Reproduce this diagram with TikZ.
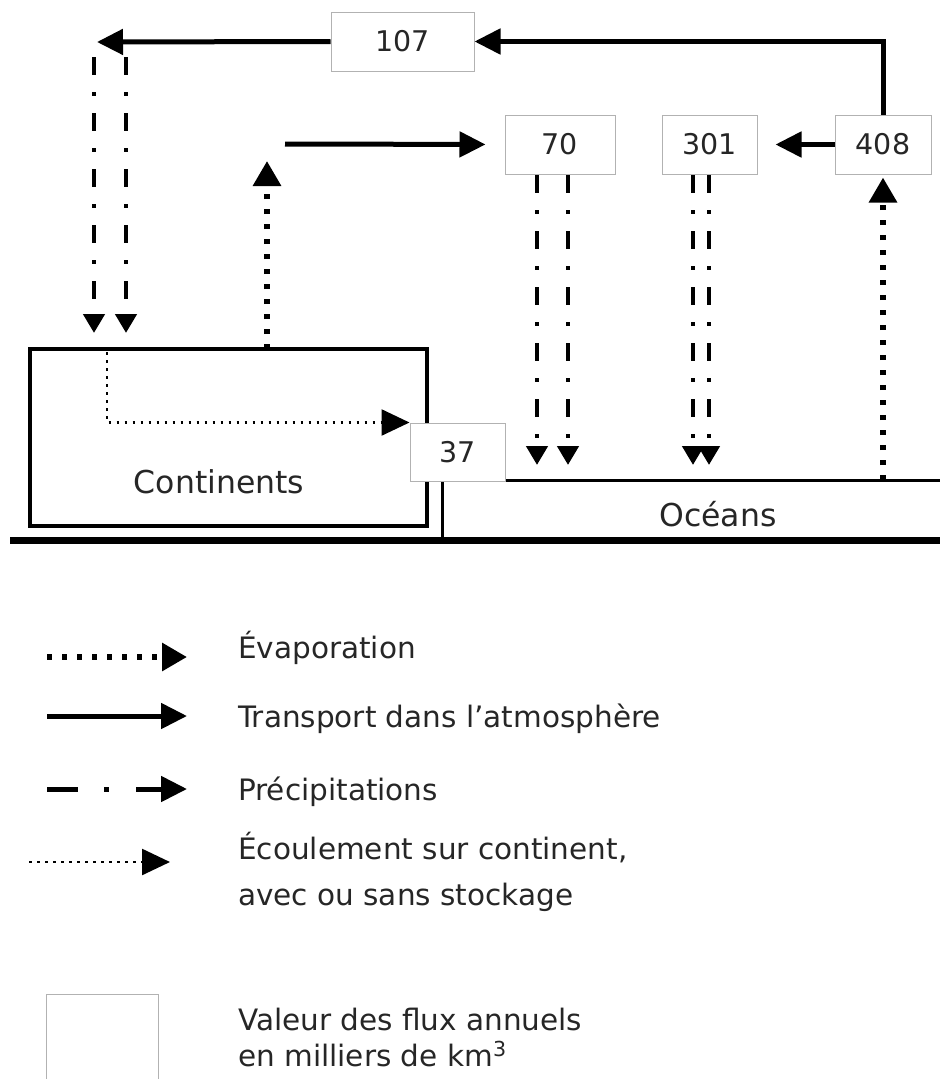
\documentclass[tikz,border=0pt]{standalone}
\usepackage{fontspec}
\setmainfont{DejaVu Sans}
\usetikzlibrary{arrows.meta}
\begin{document}
\begin{tikzpicture}[x=1pt,y=-1pt,
  fluxbox/.style={draw=black!30, line width=1pt, fill=white, inner sep=0pt,
    minimum height=59pt, font=\fontsize{28.5}{30}\selectfont, text=black!85},
  transport/.style={line width=5pt, line join=miter, -{Triangle[length=26pt,width=25pt]}},
  evap/.style={line width=6pt, dash pattern=on 5pt off 10pt, -{Triangle[length=25pt,width=27pt]}},
  precip/.style={line width=4.5pt, dash pattern=on 18pt off 17pt on 4pt off 17pt, -{Triangle[length=19pt,width=21pt]}},
  legprecip/.style={line width=5pt, dash pattern=on 31pt off 26pt on 5pt off 27pt, -{Triangle[length=26pt,width=25pt]}},
  runoff/.style={line width=2.5pt, dash pattern=on 2.5pt off 5.5pt, -{Triangle[length=28pt,width=26pt]}},
  lbl/.style={font=\fontsize{29.5}{34}\selectfont, text=black!85, inner sep=0pt, anchor=base west},
  biglbl/.style={font=\fontsize{31.5}{34}\selectfont, text=black!85, inner sep=0pt, anchor=base},
  legfrm/.style={draw=black!30, line width=1pt, inner sep=0pt}
]
\useasboundingbox (0,0) rectangle (940,1079);
\clip (0,0) rectangle (940,1079);

% ground, ocean, continents
\coordinate (oc0) at (442,540);
\coordinate (oc1) at (442,480);
\coordinate (oc2) at (940,480);
\draw[line width=3pt, line join=miter] (oc0) -- (oc1) -- (oc2);
\node[draw, line width=3.5pt, minimum width=397pt, minimum height=177pt, inner sep=0pt] (cont) at (228.5,437.5) {};
\node[biglbl] (contlbl) at (219,493) {Continents};
\node[biglbl] (oclbl) at (718,526) {Océans};
\coordinate (g0) at (10,540);
\coordinate (g1) at (940,540);
\draw[line width=7pt] (g0) -- (g1);

% flux boxes
\node[fluxbox, minimum width=143pt] (b107) at (402.5,41.5) {107};
\node[fluxbox, minimum width=110pt] (b70) at (560,144.5) {70};
\node[fluxbox, minimum width=95pt] (b301) at (709.5,144.5) {301};
\node[fluxbox, minimum width=96pt] (b408) at (883,144.5) {408};

% transport
\coordinate (tl) at (97,42);
\draw[transport] (b408.north) |- (b107.east);
\draw[transport] (b107.west) -- (tl);
\draw[transport, shorten >=18pt] (b408.west) -- (b301.east);
\coordinate (ts) at (285,144);
\draw[transport, shorten >=19pt] (ts) -- (b70.west);

% precipitation
\coordinate (p1a) at (94,57);   \coordinate (p1b) at (94,333);
\coordinate (p2a) at (126,57);  \coordinate (p2b) at (126,333);
\draw[precip] (p1a) -- (p1b);
\draw[precip] (p2a) -- (p2b);
\coordinate (p3a) at (537,175); \coordinate (p3b) at (537,465);
\coordinate (p4a) at (568,175); \coordinate (p4b) at (568,465);
\draw[precip] (p3a) -- (p3b);
\draw[precip] (p4a) -- (p4b);
\coordinate (p5a) at (693,175); \coordinate (p5b) at (693,465);
\coordinate (p6a) at (709,175); \coordinate (p6b) at (709,465);
\draw[precip] (p5a) -- (p5b);
\draw[precip] (p6a) -- (p6b);

% evaporation
\coordinate (ec0) at (267,349);
\coordinate (ec1) at (267,161);
\draw[evap] (ec0) -- (ec1);
\coordinate (eo0) at (883,480);
\draw[evap, shorten >=3pt] (eo0) -- (b408.south);

% box 37 and runoff
\node[fluxbox, minimum width=95pt, minimum height=58pt] (b37) at (457.5,452) {37};
\coordinate (ro0) at (107,352);
\draw[runoff] (ro0) |- (b37.north west);

% legend
\coordinate (l1a) at (47,657);  \coordinate (l1b) at (187,657);
\draw[evap] (l1a) -- (l1b);
\node[lbl] (t1) at (238,658) {Évaporation};
\coordinate (l2a) at (47,716);  \coordinate (l2b) at (187,716);
\draw[transport] (l2a) -- (l2b);
\node[lbl] (t2) at (238,727) {Transport dans l’atmosphère};
\coordinate (l3a) at (47,789);  \coordinate (l3b) at (187,789);
\draw[legprecip] (l3a) -- (l3b);
\node[lbl] (t3) at (238,800) {Précipitations};
\coordinate (l4a) at (29,862);  \coordinate (l4b) at (170,862);
\draw[runoff] (l4a) -- (l4b);
\node[lbl] (t4) at (238,859) {Écoulement sur continent,};
\node[lbl] (t5) at (238,905) {avec ou sans stockage};
\node[legfrm, minimum width=112pt, minimum height=100pt, anchor=north west] (legbox) at (46,994) {};
\node[lbl] (t6) at (238,1030) {Valeur des flux annuels};
\node[lbl] (t7) at (238,1066) {en milliers de km\textsuperscript{3}};
\end{tikzpicture}
\end{document}
